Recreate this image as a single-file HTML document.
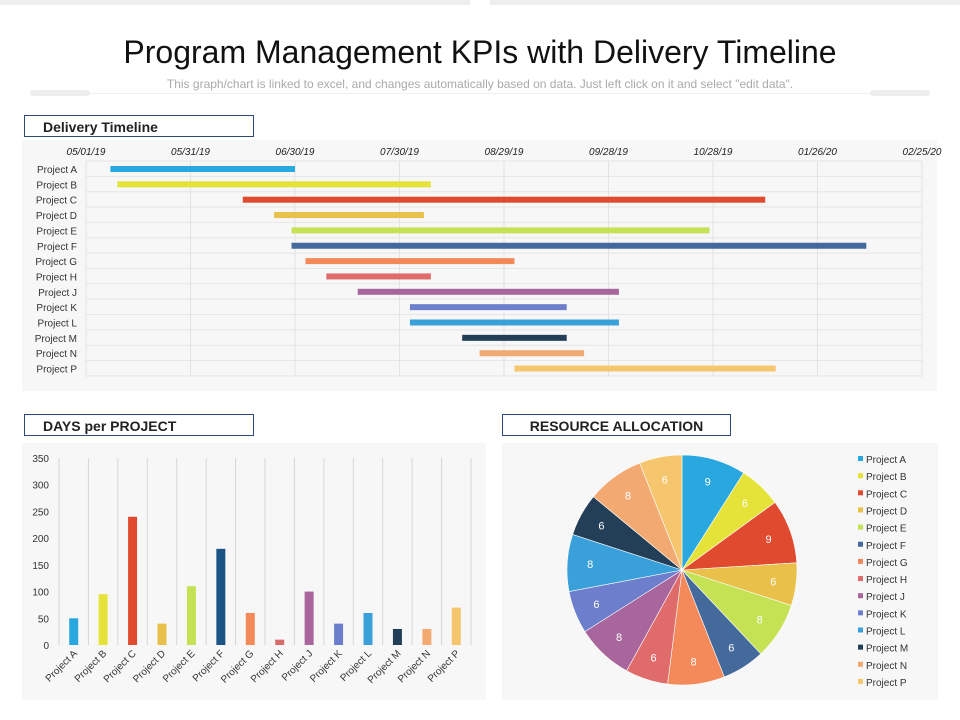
<!DOCTYPE html>
<html><head><meta charset="utf-8">
<style>
body{margin:0;width:960px;height:720px;background:#fff;font-family:"Liberation Sans",sans-serif;overflow:hidden;position:relative}
.hdr{position:absolute;height:22px;border:1px solid #2e4a7a;background:#fff;font-weight:bold;font-size:14px;color:#222;line-height:22px;box-sizing:border-box}
</style></head><body>
<div style="position:absolute;left:0;top:0;width:470px;height:5px;background:#eee"></div>
<div style="position:absolute;left:490px;top:0;width:470px;height:5px;background:#eee"></div>
<div style="position:absolute;left:0;top:34px;width:960px;text-align:center;font-size:32px;color:#111">Program Management KPIs with Delivery Timeline</div>
<div style="position:absolute;left:0;top:77px;width:960px;text-align:center;font-size:12px;color:#aaa">This graph/chart is linked to excel, and changes automatically based on data. Just left click on it and select "edit data".</div>
<div style="position:absolute;left:30px;top:93px;width:900px;height:1px;background:#f0f0f0"></div>
<div style="position:absolute;left:30px;top:90px;width:60px;height:6px;background:#eee;border-radius:3px"></div>
<div style="position:absolute;left:870px;top:90px;width:60px;height:6px;background:#eee;border-radius:3px"></div>
<div class="hdr" style="left:24px;top:115px;width:230px;padding-left:18px">Delivery Timeline</div>
<div class="hdr" style="left:24px;top:414px;width:230px;padding-left:18px">DAYS per PROJECT</div>
<div class="hdr" style="left:502px;top:414px;width:229px;text-align:center">RESOURCE ALLOCATION</div>
<svg id="svg" width="960" height="720" style="position:absolute;left:0;top:0;z-index:-1">
<rect x="22" y="140" width="915" height="251" fill="#f7f7f7"/>
<rect x="22" y="443" width="464" height="257" fill="#f7f7f7"/>
<rect x="502" y="443" width="436" height="257" fill="#f7f7f7"/>
</svg>
<script>
const projects=["Project A","Project B","Project C","Project D","Project E","Project F","Project G","Project H","Project J","Project K","Project L","Project M","Project N","Project P"];
const colors=["#29a8e0","#e5e23a","#e04a2e","#e8c04a","#c5e255","#44699b","#f4895a","#e06b6b","#a8669c","#6d7fcc","#3aa0da","#233e57","#f2aa72","#f6c66e"];
const barColors=["#29a8e0","#e5e23a","#e04a2e","#e8c04a","#c5e255","#1a5586","#f4895a","#d96b6b","#a8669c","#6d7fcc","#3aa0da","#233e57","#f2aa72","#f6c66e"];
const dateTicks=["05/01/19","05/31/19","06/30/19","07/30/19","08/29/19","09/28/19","10/28/19","01/26/20","02/25/20"];
const startDays=[7,9,45,54,59,59,63,69,78,93,93,108,113,123];
const durDays=[53,90,150,43,120,165,60,30,75,45,60,30,30,75];
const days=[50,95,240,40,110,180,60,10,100,40,60,30,30,70];
const yTicks=[0,50,100,150,200,250,300,350];
const shares=[9,6,9,6,8,6,8,6,8,6,8,6,8,6];
const svg=document.getElementById('svg');const NS="http://www.w3.org/2000/svg";
function mk(t,a,p){const e=document.createElementNS(NS,t);for(const k in a)e.setAttribute(k,a[k]);(p||svg).appendChild(e);return e;}
// Gantt
const gx=d=>86+d*104.5/30, gy=i=>169+i*15.35;
for(let i=0;i<=14;i++){const l=mk('line',{x1:86,x2:922,y1:161+i*15.35,y2:161+i*15.35,stroke:'#e6e6e6'});}
dateTicks.forEach((t,i)=>{const x=gx(i*30);
const l=mk('line',{x1:x,x2:x,y1:161,y2:377,stroke:'#e3e3e3'});
const e=mk('text',{x:x,y:155,'text-anchor':'middle','font-size':10,'font-style':'italic',fill:'#222'});e.textContent=t;});
projects.forEach((p,i)=>{const e=mk('text',{x:77,y:gy(i)+4,'text-anchor':'end','font-size':10,fill:'#333'});e.textContent=p;
const r=mk('rect',{x:gx(startDays[i]),y:gy(i)-3,width:durDays[i]*104.5/30,height:6,fill:colors[i]});});
// Bar chart
const by=v=>645-v*187/350, bw=412/14, bx=i=>59+bw*i+bw/2;
for(let i=0;i<=14;i++){const l=mk('line',{x1:59+bw*i,x2:59+bw*i,y1:458,y2:645,stroke:'#d6d6d6'});}
yTicks.forEach(v=>{const e=mk('text',{x:49,y:by(v)+4,'text-anchor':'end','font-size':10,fill:'#333'});e.textContent=v;});
days.forEach((v,i)=>{const r=mk('rect',{x:bx(i)-4.5,y:by(v),width:9,height:645-by(v),fill:barColors[i]});
const e=mk('text',{x:bx(i)+4,y:654,'text-anchor':'end','font-size':10,fill:'#333',transform:`rotate(-45 ${bx(i)+4} 654)`});e.textContent=projects[i];});
// Pie
const cx=682,cy=570,R=115,tot=shares.reduce((a,b)=>a+b,0);let a0=-Math.PI/2;
shares.forEach((v,i)=>{const a1=a0+v/tot*2*Math.PI;
const d=`M${cx},${cy}L${cx+R*Math.cos(a0)},${cy+R*Math.sin(a0)}A${R},${R} 0 ${a1-a0>Math.PI?1:0} 1 ${cx+R*Math.cos(a1)},${cy+R*Math.sin(a1)}Z`;
const p=mk('path',{d:d,fill:colors[i],stroke:'#fff','stroke-width':0.6});
const am=(a0+a1)/2;const e=mk('text',{x:cx+R*0.8*Math.cos(am),y:cy+R*0.8*Math.sin(am)+4,'text-anchor':'middle','font-size':11,fill:'#fff'});e.textContent=v;
a0=a1;
const ly=459+i*17.15;const s=mk('rect',{x:858,y:ly-3,width:5,height:5,fill:colors[i]});
const t=mk('text',{x:866,y:ly+4,'font-size':10,fill:'#333'});t.textContent=projects[i];});
</script>
</body></html>
